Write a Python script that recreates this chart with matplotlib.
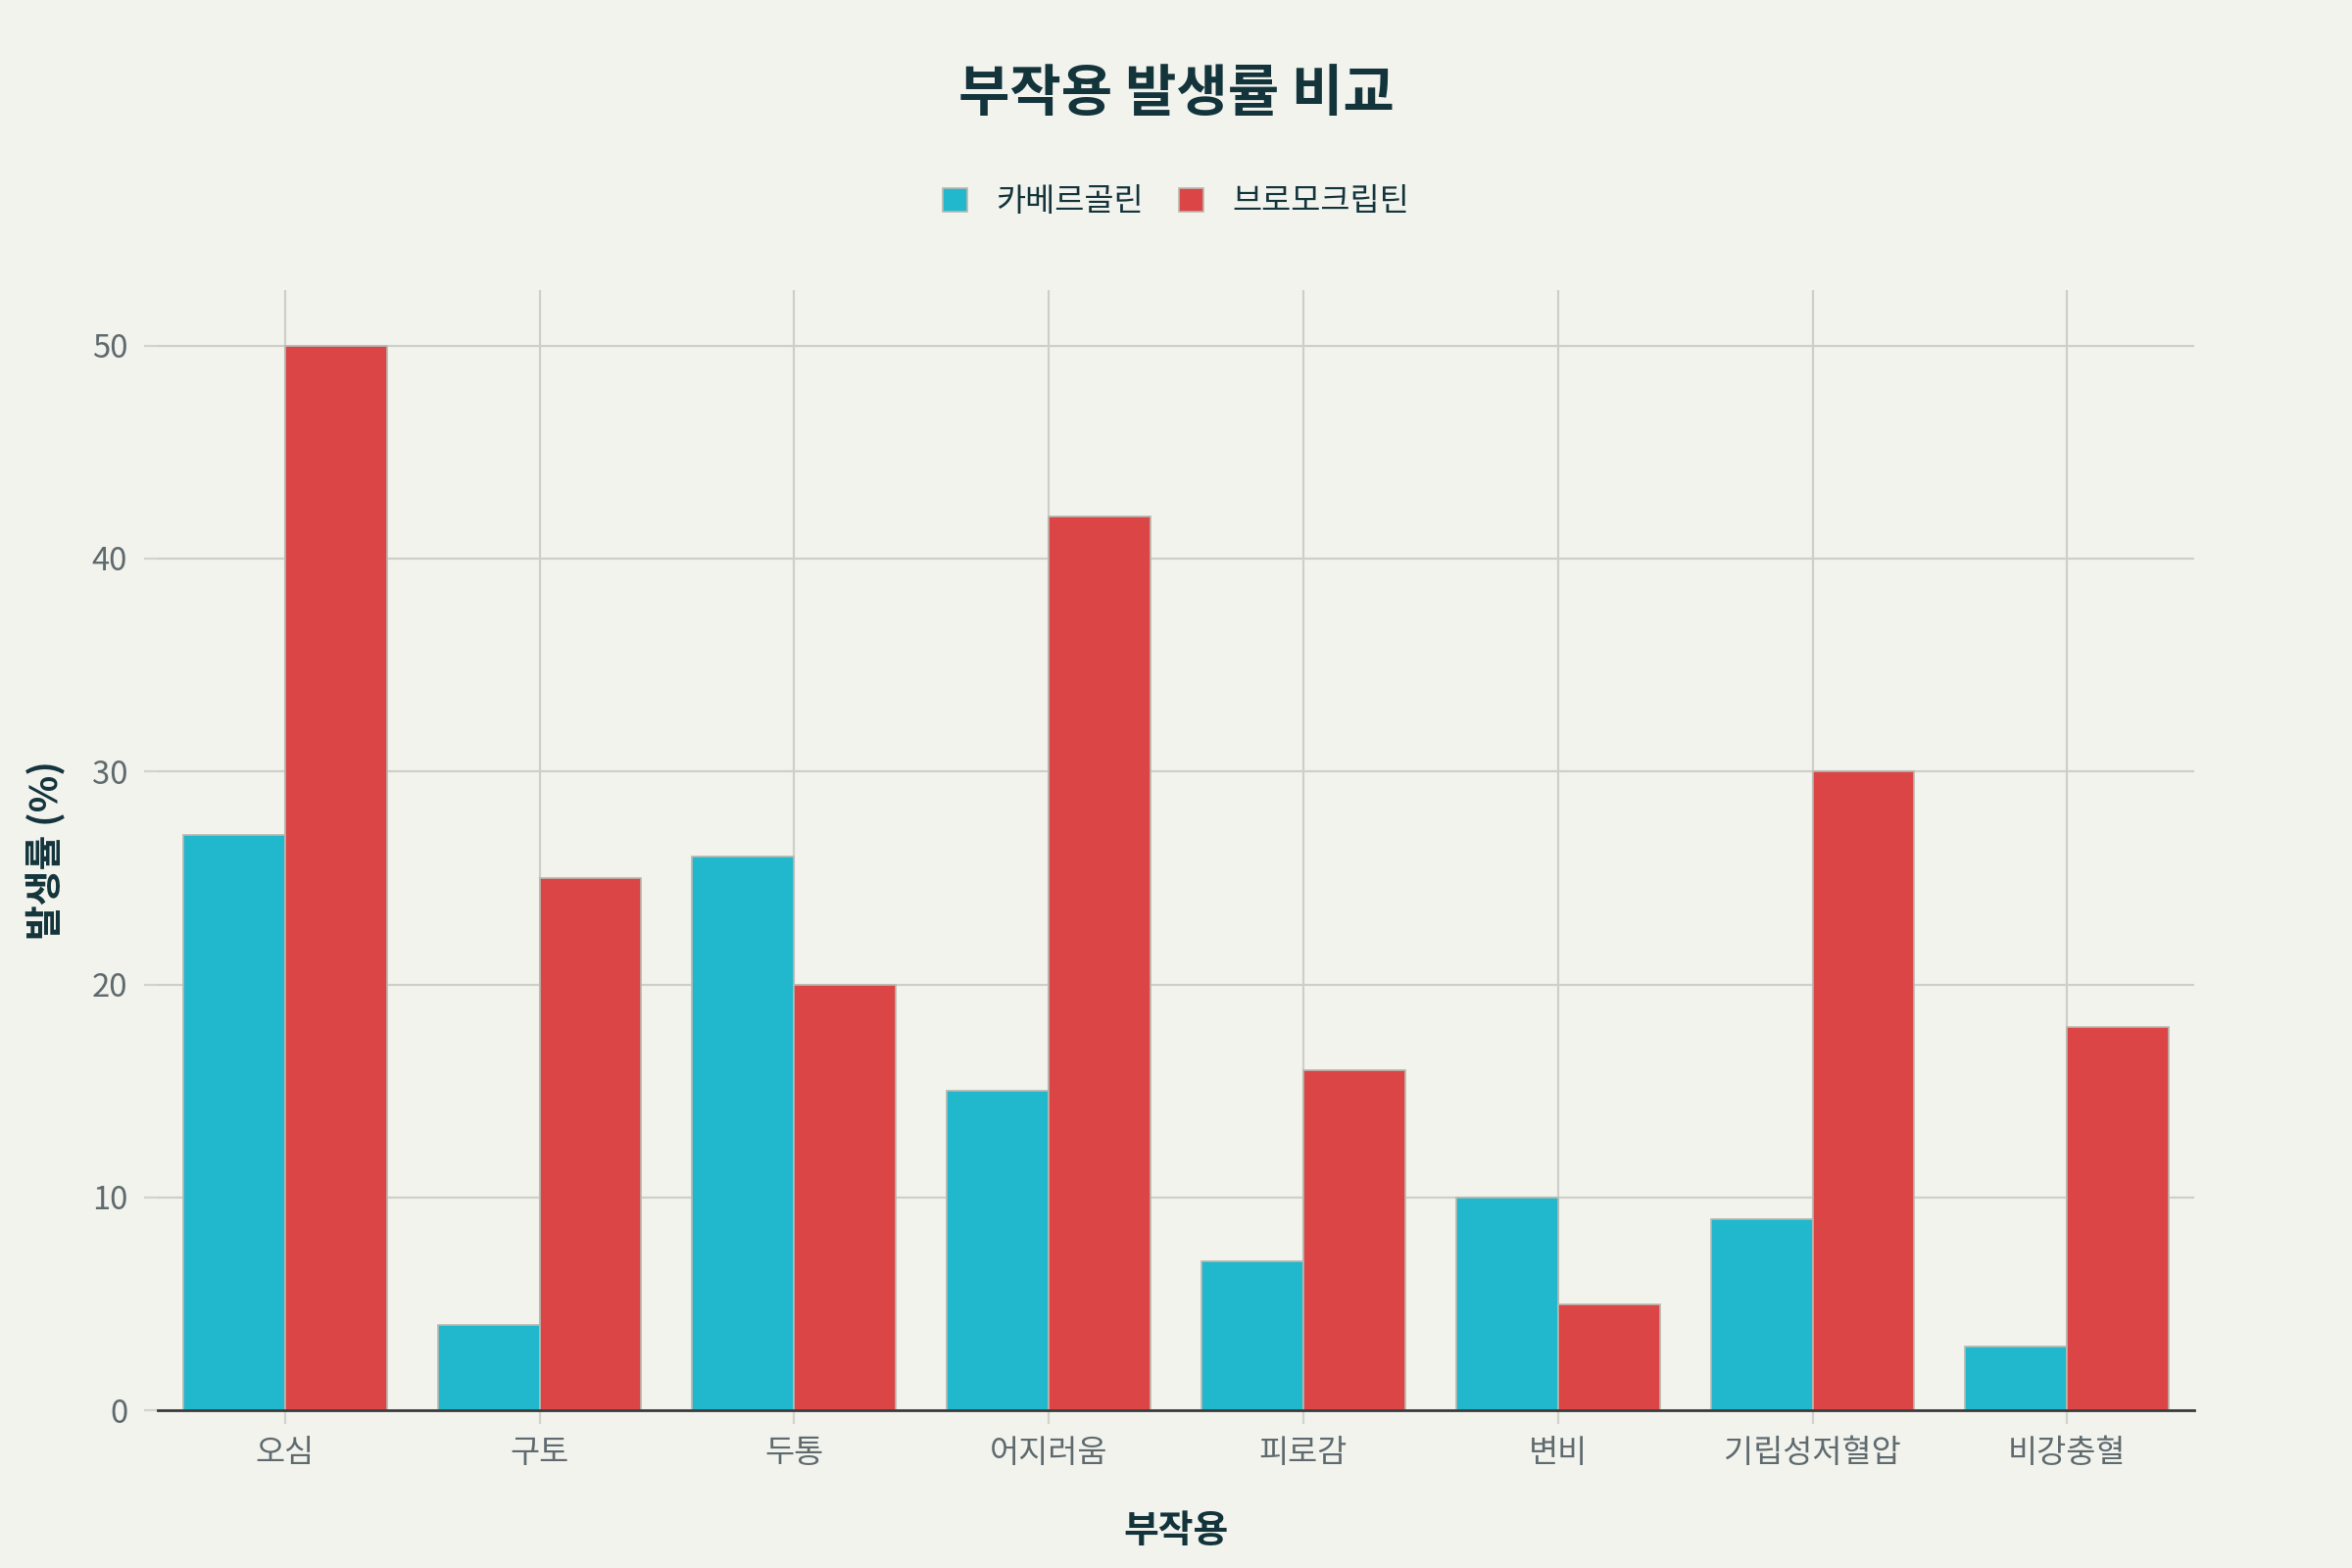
import matplotlib.pyplot as plt
import numpy as np

plt.rcParams['font.family'] = ['Noto Sans CJK KR', 'DejaVu Sans']

categories = ['오심', '구토', '두통', '어지러움', '피로감', '변비', '기립성저혈압', '비강충혈']
cabergoline = [27, 4, 26, 15, 7, 10, 9, 3]
bromocriptine = [50, 25, 20, 42, 16, 5, 30, 18]
series_names = ['카베르골린', '브로모크립틴']

bg = '#F3F3EE'
c1 = '#21B8CD'
c2 = '#DB4545'
dark = '#13343B'
tickc = '#5E6A6E'

fig = plt.figure(figsize=(12, 8), dpi=200, facecolor=bg)
ax = fig.add_axes([0.067, 0.1005, 0.866, 0.7148], facecolor=bg)

x = np.arange(len(categories))
w = 0.4
ax.bar(x - w / 2, cabergoline, w, color=c1, edgecolor='#B8B8B0', linewidth=0.6, label=series_names[0], zorder=3)
ax.bar(x + w / 2, bromocriptine, w, color=c2, edgecolor='#B8B8B0', linewidth=0.6, label=series_names[1], zorder=3)

ax.set_xlim(-0.5, len(categories) - 0.5)
ax.set_ylim(0, 52.63)
ax.set_yticks([0, 10, 20, 30, 40, 50])
ax.set_xticks(x)
ax.set_xticklabels(categories)

ax.grid(True, color='#CFCFCA', linewidth=0.8, zorder=0)
for s in ['top', 'right', 'left']:
    ax.spines[s].set_visible(False)
ax.spines['bottom'].set_color('#3A3A3A')
ax.spines['bottom'].set_linewidth(1.0)
ax.spines['bottom'].set_zorder(4)

ax.tick_params(axis='both', colors='#D3D3CE', labelcolor=tickc, labelsize=11.8, length=5, width=0.8)
ax.tick_params(axis='x', pad=5)
ax.tick_params(axis='y', pad=6)

ax.set_xlabel('부작용', fontsize=14, fontweight='bold', color=dark, labelpad=16)
ax.set_ylabel('발생률 (%)', fontsize=14, fontweight='bold', color=dark)
ax.yaxis.set_label_coords(-0.045, 0.5)

fig.suptitle('부작용 발생률 비교', x=0.5, y=0.94, va='center', fontsize=20.5, fontweight='bold', color=dark)
fig.legend(loc='center', bbox_to_anchor=(0.5, 0.871), ncol=2, frameon=False,
           fontsize=11.8, handlelength=0.75, handleheight=0.75, columnspacing=1.1,
           handletextpad=0.9, labelcolor=dark)

fig.savefig('out.png', dpi=200, facecolor=bg)
